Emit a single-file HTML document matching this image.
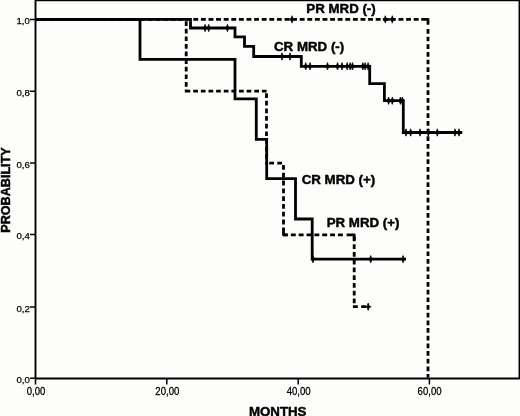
<!DOCTYPE html>
<html><head><meta charset="utf-8">
<style>
html,body{margin:0;padding:0;background:#fff;}
svg{display:block;}
text{font-family:"Liberation Sans",sans-serif;fill:#000;}
.lbl{font-weight:bold;font-size:13.3px;stroke:#000;stroke-width:0.45px;}
.tk{font-size:9.6px;stroke:#000;stroke-width:0.25px;}
</style></head><body>
<svg width="520" height="416" viewBox="0 0 520 416">
<defs><filter id="soft" x="-5" y="-5" width="530" height="426" filterUnits="userSpaceOnUse"><feGaussianBlur stdDeviation="0.45"/></filter></defs>
<rect x="-5" y="-5" width="530" height="426" fill="#fdfdfb"/>
<g filter="url(#soft)">
<!-- frame -->
<g stroke="#000" fill="none" stroke-width="1.9">
<path d="M35.5 0V378.8"/>
<path d="M35 378.5H520"/>
<path d="M35 0.4H520" stroke-width="1.5"/>
<path d="M519.3 0V379" stroke-width="1.5"/>
</g>
<!-- ticks -->
<g stroke="#000" stroke-width="1.5">
<path d="M30 19.4H36M30 91.3H36M30 163H36M30 234.6H36M30 307.1H36M30 378.3H36"/>
<path d="M35.5 378V384.5M166.8 378V384.5M298.2 378V384.5M429.4 378V384.5"/>
</g>
<g class="tk" text-anchor="end">
<text transform="translate(29.8,24.0)">1,0</text>
<text transform="translate(29.8,95.9)">0,8</text>
<text transform="translate(29.8,167.7)">0,6</text>
<text transform="translate(29.8,239.4)">0,4</text>
<text transform="translate(29.8,312.0)">0,2</text>
<text transform="translate(29.8,382.8)">0,0</text>
</g>
<g class="tk" text-anchor="middle">
<text transform="translate(36.0,394.6) scale(1,1.17)">0,00</text>
<text transform="translate(167.3,394.6) scale(1,1.17)">20,00</text>
<text transform="translate(298.7,394.6) scale(1,1.17)">40,00</text>
<text transform="translate(429.6,394.6) scale(1,1.17)">60,00</text>
</g>
<text class="lbl" x="277.7" y="415.5" text-anchor="middle" style="font-size:13.3px">MONTHS</text>
<text class="lbl" transform="translate(10.1,190) rotate(-90)" text-anchor="middle" style="font-size:12.6px">PROBABILITY</text>
<!-- dashed curves -->
<path stroke="#000" fill="none" stroke-width="2.8" d="M413.70 19.4H418.60M406.10 19.4H411.00M398.50 19.4H403.40M390.90 19.4H395.80M383.30 19.4H388.20M375.70 19.4H380.60M368.10 19.4H373.00M360.50 19.4H365.40M352.90 19.4H357.80M345.30 19.4H350.20M337.70 19.4H342.60M330.10 19.4H335.00M322.50 19.4H327.40M314.90 19.4H319.80M307.30 19.4H312.20M299.70 19.4H304.60M292.10 19.4H297.00M284.50 19.4H289.40M276.90 19.4H281.80M269.30 19.4H274.20M261.70 19.4H266.60M254.10 19.4H259.00M246.50 19.4H251.40M238.90 19.4H243.80M231.30 19.4H236.20M223.70 19.4H228.60M216.10 19.4H221.00M208.50 19.4H213.40M200.90 19.4H205.80M193.30 19.4H198.20M185.70 19.4H190.60M178.10 19.4H183.00M170.50 19.4H175.40M162.90 19.4H167.80M155.30 19.4H160.20M147.70 19.4H152.60M140.10 19.4H145.00M132.50 19.4H137.40M124.90 19.4H129.80M117.30 19.4H122.20M109.70 19.4H114.60M102.10 19.4H107.00M94.50 19.4H99.40M86.90 19.4H91.80M79.30 19.4H84.20M71.70 19.4H76.60M64.10 19.4H69.00M56.50 19.4H61.40M48.90 19.4H53.80M41.30 19.4H46.20M36.00 19.4H38.60M428 28.97V33.67M428 36.64V41.34M428 44.31V49.01M428 51.98V56.68M428 59.65V64.35M428 67.32V72.02M428 74.99V79.69M428 82.66V87.36M428 90.33V95.03M428 98.00V102.70M428 105.67V110.37M428 113.34V118.04M428 121.01V125.71M428 128.68V133.38M428 136.35V141.05M428 144.02V148.72M428 151.69V156.39M428 159.36V164.06M428 167.03V171.73M428 174.70V179.40M428 182.37V187.07M428 190.04V194.74M428 197.71V202.41M428 205.38V210.08M428 213.05V217.75M428 220.72V225.42M428 228.39V233.09M428 236.06V240.76M428 243.73V248.43M428 251.40V256.10M428 259.07V263.77M428 266.74V271.44M428 274.41V279.11M428 282.08V286.78M428 289.75V294.45M428 297.42V302.12M428 305.09V309.79M428 312.76V317.46M428 320.43V325.13M428 328.10V332.80M428 335.77V340.47M428 343.44V348.14M428 351.11V355.81M428 358.78V363.48M428 366.45V371.15M428 374.12V377.50M186.2 21.20V25.90M186.2 28.80V33.50M186.2 36.40V41.10M186.2 44.00V48.70M186.2 51.60V56.30M186.2 59.20V63.90M186.2 66.80V71.50M186.2 74.40V79.10M186.2 82.00V86.70M186.2 89.60V92.40M185.60 91.1H190.30M193.23 91.1H197.93M200.86 91.1H205.56M208.49 91.1H213.19M216.12 91.1H220.82M223.75 91.1H228.45M231.38 91.1H236.08M239.01 91.1H243.71M246.64 91.1H251.34M254.27 91.1H258.97M261.90 91.1H266.60M266.5 93.23V97.93M266.5 100.86V105.56M266.5 108.49V113.19M266.5 116.12V120.82M266.5 123.75V128.45M266.5 131.38V136.08M266.5 139.01V143.71M266.5 146.64V151.34M266.5 154.27V158.97M266.5 161.90V164.50M269.20 163.2H274.00M277.30 163.2H282.10M283.5 161.90V162.00M283.5 165.00V169.80M283.5 172.80V177.60M283.5 180.60V185.40M283.5 188.40V193.20M283.5 196.20V201.00M283.5 204.00V208.80M283.5 211.80V216.60M283.5 219.60V224.40M283.00 234.8H287.90M290.85 234.8H295.75M298.70 234.8H303.60M306.55 234.8H311.45M314.40 234.8H319.30M322.25 234.8H327.15M330.10 234.8H335.00M337.95 234.8H342.85M354.2 236.40V241.20M354.2 244.15V248.95M354.2 251.90V256.70M354.2 259.65V264.45M354.2 267.40V272.20M354.2 275.15V279.95M354.2 282.90V287.70M354.2 290.65V295.45M354.2 298.40V303.20M352.90 306.7H357.80M361.20 306.7H366.10"/>
<path stroke="#000" fill="none" stroke-width="2.8" stroke-linejoin="round" d="M421.2 19.4H428V24.8M346.6 234.8H354.2V240.6M283.5 227.6V234.8H287.3"/>
<path stroke="#000" fill="none" stroke-width="2.2" d="M382.8 19.4H394.8M289.5 19.4H294.5"/>
<!-- solid curves -->
<g stroke="#000" fill="none" stroke-width="2.8" stroke-linejoin="miter">
<path d="M36 19.4H140V59.4H235V98.8H256.3V139.3H266.7V178.6H295.5V219H312.2V259.2H406"/>
<path d="M36 19.4H190.5V28H235V36.9H244.5V46.4H253.7V56.5H301.3V66.3H369.7V83.7H384.4V100.7H403.3V132.5H462.3"/>
</g>
<!-- censor ticks -->
<path fill="#000" stroke="#000" stroke-width="0.7" stroke-linejoin="miter" d="M292.0 15.7L293.35 19.4L292.0 23.1L290.65 19.4ZM385.3 15.7L386.65 19.4L385.3 23.1L383.95 19.4ZM392.3 15.7L393.65 19.4L392.3 23.1L390.95 19.4ZM205.0 24.3L206.35 28.0L205.0 31.7L203.65 28.0ZM208.7 24.3L210.05 28.0L208.7 31.7L207.35 28.0ZM227.4 24.3L228.75 28.0L227.4 31.7L226.05 28.0ZM282.0 52.8L283.35 56.5L282.0 60.2L280.65 56.5ZM290.0 52.8L291.35 56.5L290.0 60.2L288.65 56.5ZM305.7 62.6L307.05 66.3L305.7 70.0L304.35 66.3ZM310.0 62.6L311.35 66.3L310.0 70.0L308.65 66.3ZM327.5 62.6L328.85 66.3L327.5 70.0L326.15 66.3ZM337.5 62.6L338.85 66.3L337.5 70.0L336.15 66.3ZM342.0 62.6L343.35 66.3L342.0 70.0L340.65 66.3ZM347.2 62.6L348.55 66.3L347.2 70.0L345.85 66.3ZM350.2 62.6L351.55 66.3L350.2 70.0L348.85 66.3ZM352.5 62.6L353.85 66.3L352.5 70.0L351.15 66.3ZM362.8 62.6L364.15 66.3L362.8 70.0L361.45 66.3ZM365.1 62.6L366.45 66.3L365.1 70.0L363.75 66.3ZM368.1 62.6L369.45 66.3L368.1 70.0L366.75 66.3ZM388.6 97.0L389.95 100.7L388.6 104.4L387.25 100.7ZM392.3 97.0L393.65 100.7L392.3 104.4L390.95 100.7ZM400.4 97.0L401.75 100.7L400.4 104.4L399.05 100.7ZM402.3 97.0L403.65 100.7L402.3 104.4L400.95 100.7ZM406.0 128.8L407.35 132.5L406.0 136.2L404.65 132.5ZM410.6 128.8L411.95 132.5L410.6 136.2L409.25 132.5ZM420.0 128.8L421.35 132.5L420.0 136.2L418.65 132.5ZM428.3 128.8L429.65 132.5L428.3 136.2L426.95 132.5ZM437.3 128.8L438.65 132.5L437.3 136.2L435.95 132.5ZM455.0 128.8L456.35 132.5L455.0 136.2L453.65 132.5ZM459.0 128.8L460.35 132.5L459.0 136.2L457.65 132.5ZM313.0 255.5L314.35 259.2L313.0 262.9L311.65 259.2ZM370.7 255.5L372.05 259.2L370.7 262.9L369.35 259.2ZM403.1 255.5L404.45 259.2L403.1 262.9L401.75 259.2ZM368.2 303.0L369.55 306.7L368.2 310.4L366.85 306.7Z"/>
<path stroke="#000" stroke-width="1.3" d="M365.3 306.7H371.2"/>
<!-- labels -->
<text class="lbl" x="306.3" y="13.4">PR MRD (-)</text>
<text class="lbl" x="274" y="51.3">CR MRD (-)</text>
<text class="lbl" x="301.7" y="183.7">CR MRD (+)</text>
<text class="lbl" x="326.7" y="226.6">PR MRD (+)</text>
</g>
</svg>
</body></html>
